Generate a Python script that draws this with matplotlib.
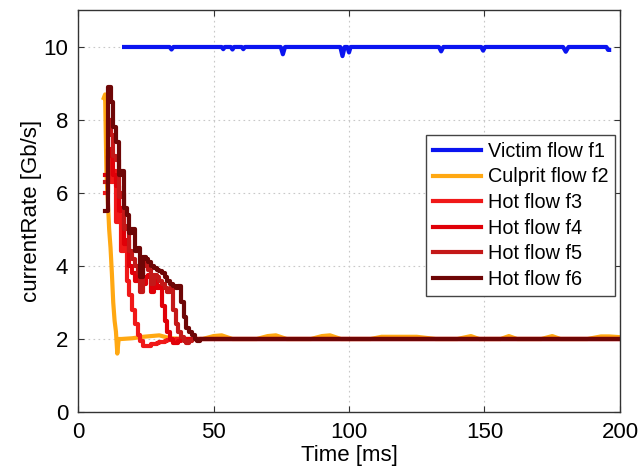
import matplotlib
matplotlib.use("Agg")
import matplotlib.pyplot as plt

plt.rcParams["font.family"] = ["Liberation Sans", "DejaVu Sans"]

# victim flow f1
t_f1 = [17, 33.8, 34.5, 35.2, 53, 53.6, 54.2, 56.4, 57, 57.6, 60.4, 61, 61.6,
        74.8, 75.6, 76.4, 96.8, 97.6, 98.4, 99.4, 100, 100.6, 133.2, 134, 134.8,
        148.8, 149.5, 150.2, 179, 180, 181, 195, 195.6, 196]
v_f1 = [10, 10, 9.93, 10, 10, 9.94, 10, 10, 9.93, 10, 10, 9.94, 10,
        10, 9.8, 10, 10, 9.75, 10, 10, 9.85, 10, 10, 9.88, 10,
        10, 9.9, 10, 10, 9.87, 10, 10, 9.92, 9.92]

# culprit flow f2
t_f2 = [9.5, 10, 10.5, 11, 11.5, 12, 12.5, 13, 13.5, 14, 14.5, 15, 16, 20, 24, 27,
        30, 34, 40, 46, 50, 53, 57, 66, 70, 73, 77, 86, 90, 93, 97, 108, 112,
        125, 132, 140, 145, 148, 156, 159, 162, 171, 175, 178, 188, 193, 196, 200]
v_f2 = [8.6, 8.7, 6.5, 5.8, 5.0, 4.5, 3.8, 3.0, 2.5, 2.2, 1.6, 2.0, 2.0, 2.02, 2.06,
        2.08, 2.1, 2.02, 2.0, 2.0, 2.08, 2.1, 2.0, 2.0, 2.08, 2.1, 2.0, 2.0, 2.08,
        2.1, 2.0, 2.0, 2.06, 2.06, 2.0, 2.0, 2.08, 2.0, 2.0, 2.08, 2.0, 2.0, 2.08,
        2.0, 2.0, 2.07, 2.07, 2.05]

# hot flows f3..f6, 1 ms samples from 10 ms then tail
t_hot = [10, 11, 12, 13, 14, 15, 16, 17, 18, 19, 20, 21, 22, 23, 24, 25, 26, 27,
         28, 29, 30, 31, 32, 33, 34, 35, 36, 37, 38, 39, 40, 41, 42, 43, 44, 45,
         46, 60, 80, 100, 120, 140, 160, 180, 200]
v_f3 = [6.0, 7.0, 6.3, 6.6, 5.2, 5.4, 4.4, 4.6, 3.6, 3.2, 2.8, 2.4, 2.1, 1.95,
        1.82, 1.8, 1.82, 1.85, 1.87, 1.9, 1.92, 1.93, 1.95, 1.96, 1.97, 1.98,
        1.99, 2.0, 2.0, 2.0, 2.0, 2.0, 2.0, 2.0, 2.0, 2.0,
        2.0, 2.0, 2.0, 2.0, 2.0, 2.0, 2.0, 2.0, 2.0]
v_f4 = [6.5, 7.2, 7.0, 6.5, 6.2, 5.5, 5.6, 4.6, 4.7, 4.0, 3.8, 3.6, 3.9, 3.8,
        3.5, 3.7, 3.75, 3.3, 3.6, 3.4, 3.45, 2.9, 2.5, 2.2, 2.0, 1.9, 1.9,
        1.95, 2.0, 2.0, 2.0, 2.0, 2.0, 2.0, 2.0, 2.0,
        2.0, 2.0, 2.0, 2.0, 2.0, 2.0, 2.0, 2.0, 2.0]
v_f5 = [6.3, 8.0, 7.6, 7.0, 6.9, 5.9, 6.0, 5.0, 5.1, 4.4, 4.2, 4.0, 3.8, 3.3,
        4.1, 4.0, 3.9, 3.5, 3.75, 3.7, 3.6, 3.5, 3.4, 3.3, 3.4, 2.8, 2.4, 2.2,
        2.05, 1.95, 1.9, 1.95, 2.0, 2.0, 2.0, 2.0,
        2.0, 2.0, 2.0, 2.0, 2.0, 2.0, 2.0, 2.0, 2.0]
v_f6 = [5.5, 8.9, 8.5, 7.8, 7.4, 6.5, 6.6, 5.6, 5.4, 4.9, 5.0, 4.4, 4.5, 3.7,
        4.25, 4.2, 4.1, 4.0, 3.95, 3.9, 3.85, 3.8, 3.7, 3.6, 3.5, 3.45, 3.4,
        3.45, 3.0, 2.6, 2.3, 2.2, 2.1, 2.0, 1.95, 2.0,
        2.0, 2.0, 2.0, 2.0, 2.0, 2.0, 2.0, 2.0, 2.0]

fig = plt.figure(figsize=(6.41, 4.66), dpi=100)
ax = fig.add_axes([0.1217, 0.1159, 0.8455, 0.8616])

lw = 3.0
ax.plot(t_f1, v_f1, color="#0a14f0", lw=lw, label="Victim flow f1")
ax.plot(t_f2, v_f2, color="#ffa812", lw=lw, label="Culprit flow f2")
ax.plot(t_hot, v_f3, color="#f01818", lw=lw, drawstyle="steps-post", label="Hot flow f3")
ax.plot(t_hot, v_f4, color="#e00008", lw=lw, drawstyle="steps-post", label="Hot flow f4")
ax.plot(t_hot, v_f5, color="#c41818", lw=lw, drawstyle="steps-post", label="Hot flow f5")
ax.plot(t_hot, v_f6, color="#6e0606", lw=lw, drawstyle="steps-post", label="Hot flow f6")

ax.set_xlim(0, 200)
ax.set_ylim(0, 11)
ax.set_xticks([0, 50, 100, 150, 200])
ax.set_yticks([0, 2, 4, 6, 8, 10])
ax.grid(True, linestyle=(0, (1.5, 3)), color="#c8c8c8", linewidth=0.8)
ax.tick_params(direction="in", top=True, right=True, labelsize=16, length=4,
               color="#333333", pad=7)
for s in ax.spines.values():
    s.set_color("#333333")
    s.set_linewidth(1.0)

ax.set_xlabel("Time [ms]", fontsize=16, labelpad=2)
ax.set_ylabel("currentRate [Gb/s]", fontsize=16, labelpad=1)

leg = ax.legend(loc="upper right", bbox_to_anchor=(0.991, 0.69), fontsize=14.3,
                fancybox=False, framealpha=1, edgecolor="#444444",
                handlelength=2.4, handletextpad=0.35, labelspacing=0.33,
                borderpad=0.35, borderaxespad=0)
leg.get_frame().set_linewidth(1.0)

fig.savefig("out.png", dpi=100)
